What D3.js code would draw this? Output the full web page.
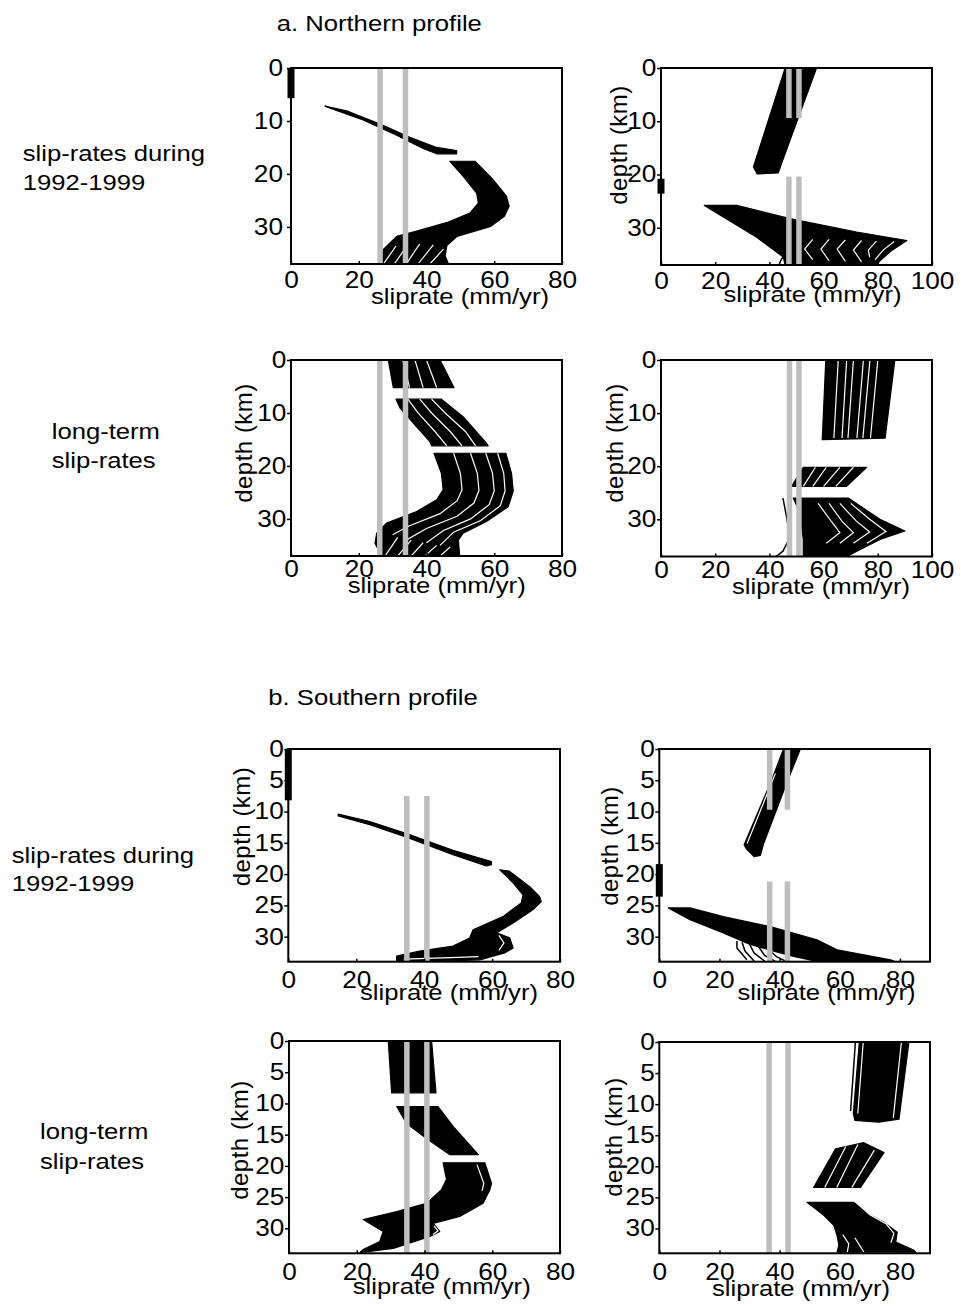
<!DOCTYPE html>
<html>
<head>
<meta charset="utf-8">
<script src="https://cdn.jsdelivr.net/npm/d3@7"></script>
<style>
  body { margin: 0; background: #fff; }
  svg text { font-family: "Liberation Sans", Arial, sans-serif; font-size: 22.5px; fill: #000; }
  svg .tick text { font-size: 23px; }
  svg text.ylab { font-size: 24px; letter-spacing: 0.5px; }
</style>
</head>
<body>
<script>
// Tick values.
const ticksA = [0, 10, 20, 30];
const ticksB = [0, 5, 10, 15, 20, 25, 30];
const slipTicks80 = [0, 20, 40, 60, 80];
const slipTicks100 = [0, 20, 40, 60, 80, 100];

// Each bundle outline is a list of [sliprate, depth] points.
// Gaps are white lines between sub-bundles, strands are loose black lines.
// Bars are [sliprate, depthTop, depthBottom]; markers are [depthTop, depthBottom] at x = 0.

// a. Northern profile, 1992-1999
const a1Bands = [
  [[10,7.2],[16.4,8.1],[26.3,10.6],[35.1,13.1],[43,15],[48.9,15.6],[48.9,16.2],[43,16.2],[39,15.2],[31.2,12.7],[21.3,9.8],[12,7.7]],
  [[46.9,17.6],[54.3,17.6],[59.7,21.1],[63.6,24.2],[64.4,26.1],[63,28],[59,29.9],[49,31.8],[46,33.5],[45.5,35.5],[46.5,37],[26.3,37],[27.2,34.3],[31.2,31.8],[37.1,30.8],[45.9,29.2],[52.8,27.4],[55.3,25.5],[54.8,23.6],[50.8,20.4]]
];
const a1Gaps = [[[27.5,36.8],[31,33.6]], [[30.5,37],[34.5,33.3]], [[34,37],[38,33.2]], [[37.5,37],[42,33.4]], [[41,37],[45,34.2]]];
const a1Bars = [[26.3,0,37],[33.8,0,37]];
const a1Marker = [0, 5.7];

// a. Northern profile, 1992-1999, right column
const a2Bands = [
  [[45.8,0],[57.4,0],[44.5,17.9],[43.3,19.7],[35.5,19.9],[34.1,18.6]],
  [[16,25.8],[27.9,25.8],[47.6,28.3],[72.2,30.8],[90.7,32.4],[85,34.3],[80.8,36.2],[79.6,37],[45.8,37],[45.1,35.5],[35.3,31.8]]
];
const a2Gaps = [[[86,32.6],[82,34.2],[79,36]], [[56,32.2],[53,34],[56,36]], [[62,32.2],[59,34],[62,36.2]], [[68,32.3],[65,34],[68,36.3]], [[74,32.4],[71,34.2],[74,36.4]], [[79.5,32.5],[76.5,34.2],[77,35.5]]];
const a2Strands = [[[43.5,37],[44.5,35.8],[46.5,35]]];
const a2Bars = [[47.2,0,9.4],[50.9,0,9.4],[47.2,20.4,37],[50.9,20.4,37]];
const a2Marker = [20.8, 23.6];

// a. Northern profile, long-term
const a3Bands = [
  [[28.7,0],[44,0],[48.1,5.2],[30.2,5.2]],
  [[31,7.4],[44.4,7.4],[50.8,10.7],[57.7,15.7],[58.2,16.2],[41.5,16.2],[41,15.4],[37.1,12.6],[32.2,9.1]],
  [[42.2,17.6],[63.4,17.6],[65.1,21.4],[65.6,24.8],[64.1,27.7],[57.7,30.5],[50.8,32.7],[49.4,34],[49.8,37],[26.7,37],[24.8,34.6],[25.3,32.7],[28.2,30.8],[37.1,28.6],[43,26.4],[44.9,24.5],[44.4,21.4]]
];
const a3Gaps = [
  [[33,0],[35,5.2]], [[36.6,0],[39,5.2]], [[40,0],[43,5.2]],
  [[34.5,7.4],[37.5,10],[42.5,13.5],[46,16.2]], [[38,7.4],[41.5,10],[47,13.5],[50.5,16.2]], [[41.5,7.4],[45.5,10],[51.5,13.5],[54.5,16.2]],
  [[48,17.6],[50,21.4],[50.5,24.5],[49,26.6],[44,29],[35,31.3],[30,33]],
  [[53,17.6],[55,21.4],[55.5,24.6],[54,27],[49,29.5],[40,31.8],[34,34]],
  [[57.5,17.6],[59.5,21.4],[60,24.7],[58.5,27.3],[53,30],[45,32.2],[40,34.5]],
  [[61,17.6],[62.8,21.4],[63.2,24.7],[61.8,27.5],[56,30.3],[48,32.5],[44,35]],
  [[28,36.8],[31.5,33.5]], [[31.5,37],[35.5,34]], [[35.5,37],[39,34.5]], [[39.5,37],[43,35]], [[44,37],[47,35.3]]
];
const a3Bars = [[26.2,0,37],[33.8,0,37]];

// a. Northern profile, long-term, right column
const a4Bands = [
  [[60.8,0],[86.3,0],[82.7,14.7],[59.5,15]],
  [[52.5,20.2],[75.9,20.2],[68.5,23.8],[48.2,23.8]],
  [[48.8,26],[69.1,26],[80.8,30],[90,32.2],[80.8,33.8],[68.5,37],[52.5,37],[52.5,33.8],[51.3,28.8]]
];
const a4Gaps = [
  [[65.4,0],[63.8,14.7]], [[68.5,0],[66.8,14.7]], [[71,0],[69,14.7]], [[74.7,0],[72.3,14.7]], [[77.1,0],[74.5,14.7]], [[80,0],[77.3,14.7]],
  [[57,20.2],[52.5,23.8]], [[61,20.2],[56,23.8]], [[66,20.2],[60,23.8]], [[71,20.2],[64.5,23.8]],
  [[58,27],[63,30.5],[66,32.5],[61,34.5]], [[62,27],[67,30.5],[71,32.5],[66,34.5]], [[66,27],[72,30.3],[77,32.4],[71,34.5]], [[70,27],[77,30],[83,32.3],[76,34.5]]
];
const a4Strands = [[[45,26],[46.5,30],[47.5,33.5],[45,36],[42.5,37]]];
const a4Bars = [[47.4,0,37],[50.9,0,37]];

// b. Southern profile, 1992-1999
const b1Bands = [
  [[14.7,10.4],[24,11.6],[34.8,13.5],[48.5,16.2],[59.8,18],[59.8,18.5],[58.3,18.7],[48.5,16.9],[34.8,14.1],[24,12.1],[14.7,10.7]],
  [[62.3,19.3],[65,19.5],[71.1,22],[74,23.6],[74.5,24.4],[72,25.7],[66.2,27.8],[61.3,29.4],[65.2,30.2],[66.2,31.8],[63.7,32.6],[56.4,33.7],[45,33.9],[31.9,33.9],[31.9,33.1],[38.7,32.3],[48.5,31.5],[53.4,30.2],[54.4,28.9],[63.2,26.8],[68.6,24.6],[69.1,23.3],[66.2,21.4]]
];
const b1Gaps = [[[62,29.8],[63.5,31],[62,32.2]], [[34,33.6],[50,33.3],[56,33.2]]];
const b1Bars = [[34.9,7.5,34],[40.8,7.5,34]];
const b1Marker = [0, 8.2];

// b. Southern profile, 1992-1999, right column
const b2Bands = [
  [[41.3,0],[46.9,0],[41.9,6],[34.7,15.1],[33.6,17],[31.5,17.2],[29,16],[28.2,15.3],[37.4,4.9]],
  [[3,25.4],[10.2,25.4],[21.3,26.8],[36.9,28.4],[52.4,30.5],[59.1,32.1],[76.9,33.7],[78,33.9],[52,33.9],[45,33.2],[38,32.3],[30,31.2],[21.3,29.4],[10.2,27.3]]
];
const b2Gaps = [[[38.6,3.9],[29.2,15.1]]];
const b2Strands = [
  [[25.8,30.7],[25.8,31.8],[29.1,33.7]], [[27.5,30.9],[28.5,32.3],[31.5,33.9]], [[30,31.2],[31.5,32.6],[35,33.9]],
  [[33,31.6],[35,33],[38.5,33.9]], [[36,31.9],[39,33.2],[42,33.9]],
  [[0,16.6],[0,18.4]]
];
const b2Bars = [[36.7,0,9.7],[42.6,0,9.7],[36.7,21.2,34],[42.6,21.2,34]];
const b2Marker = [18.4, 23.6];

// b. Southern profile, long-term
const b3Bands = [
  [[29.3,0],[42.1,0],[43.4,8.3],[30.3,8.3]],
  [[31.8,10.5],[44,10.5],[48.5,13.7],[55.9,18.2],[47.5,18.2],[41.1,15.8],[34.7,13.2]],
  [[45.5,19.5],[57.8,19.5],[59.8,22.8],[59.3,23.8],[57.3,26],[50.4,28.1],[42.6,29.2],[44.5,30.5],[41.6,31.3],[30.8,33.2],[20.9,33.9],[21.9,33.4],[26.8,32.1],[27.8,30.5],[21.9,28.6],[31.8,27.3],[40.6,26],[45,23.8],[46.5,22.2]]
];
const b3Gaps = [[[55.5,19.8],[57.5,22.8],[57,24]], [[42.8,29.6],[44,30.4],[42.5,31]]];
const b3Bars = [[34.8,0,34],[40.7,0,34]];

// b. Southern profile, long-term, right column
const b4Bands = [
  [[66.5,0],[83,0],[79.7,12.4],[73,12.9],[65,12.6],[64.5,11.5]],
  [[58.6,17.2],[68,16.2],[74.7,17.8],[66.9,23.4],[51.3,23.4]],
  [[49.1,25.8],[64.7,25.8],[69.1,27.6],[74.7,29],[79.1,30.6],[78.6,32.2],[84.7,33.5],[85.2,33.8],[59.1,33.8],[59.7,32.7],[59.1,31.1],[58,29.5],[54.7,27.9]]
];
const b4Gaps = [
  [[67.8,0],[66,11.5]], [[80.5,0],[77.8,12.2]],
  [[62,16.8],[55,23.4]], [[66,16.5],[59,23.4]], [[71.5,17.4],[64,23.4]],
  [[66,26],[70,27.8],[75.5,29.3],[78,30.8],[77,32.3]], [[61,31],[63,32.5],[62.5,33.8]], [[65,31.5],[67,33],[68,33.8]]
];
const b4Strands = [[[65.2,0],[63.6,11.1]]];
const b4Bars = [[36.5,0,34],[42.8,0,34]];

// Text.
const titles = [
  {text: 'a. Northern profile', x: 276.7, y: 30.7},
  {text: 'b. Southern profile', x: 268.3, y: 705}
];
const rowLabels = [
  {text: 'slip-rates during', x: 22.7, y: 161},
  {text: '1992-1999', x: 22.7, y: 190},
  {text: 'long-term', x: 51.7, y: 439.3},
  {text: 'slip-rates', x: 51.7, y: 468.3},
  {text: 'slip-rates during', x: 11.7, y: 863.3},
  {text: '1992-1999', x: 11.7, y: 891},
  {text: 'long-term', x: 40, y: 1138.5},
  {text: 'slip-rates', x: 40, y: 1168.5}
];

// Layout of the eight panels.
const panels = [
  {id: 'a1', left: 291, top: 68, width: 271, height: 196, xMax: 80, yMax: 37, xTicks: slipTicks80, yTicks: ticksA, xPad: 8, yPad: 3,
   xLabel: [460, 304], yLabel: null, bands: a1Bands, gaps: a1Gaps, strands: [], bars: a1Bars, marker: a1Marker},
  {id: 'a2', left: 661, top: 68, width: 271, height: 197, xMax: 100, yMax: 37, xTicks: slipTicks100, yTicks: ticksA, xPad: 8, yPad: 0,
   xLabel: [812.5, 302], yLabel: [627, 145], bands: a2Bands, gaps: a2Gaps, strands: a2Strands, bars: a2Bars, marker: a2Marker},
  {id: 'a3', left: 291, top: 360, width: 271, height: 196, xMax: 80, yMax: 37, xTicks: slipTicks80, yTicks: ticksA, xPad: 5, yPad: 0,
   xLabel: [436.7, 593], yLabel: [251.6, 443], bands: a3Bands, gaps: a3Gaps, strands: [], bars: a3Bars, marker: null},
  {id: 'a4', left: 661, top: 360, width: 271, height: 196.5, xMax: 100, yMax: 37, xTicks: slipTicks100, yTicks: ticksA, xPad: 5, yPad: 0,
   xLabel: [821, 594], yLabel: [623, 443], bands: a4Bands, gaps: a4Gaps, strands: a4Strands, bars: a4Bars, marker: null},
  {id: 'b1', left: 288.3, top: 749, width: 271.7, height: 212.7, xMax: 80, yMax: 34, xTicks: slipTicks80, yTicks: ticksB, xPad: 10, yPad: 0,
   xLabel: [449, 1000], yLabel: [250, 826.5], bands: b1Bands, gaps: b1Gaps, strands: [], bars: b1Bars, marker: b1Marker},
  {id: 'b2', left: 659.3, top: 749, width: 270.7, height: 212.7, xMax: 90, yMax: 34, xTicks: slipTicks80, yTicks: ticksB, xPad: 10, yPad: 0,
   xLabel: [826.5, 1000], yLabel: [618, 846], bands: b2Bands, gaps: b2Gaps, strands: b2Strands, bars: b2Bars, marker: b2Marker},
  {id: 'b3', left: 289, top: 1041, width: 271, height: 212.3, xMax: 80, yMax: 34, xTicks: slipTicks80, yTicks: ticksB, xPad: 10, yPad: 0,
   xLabel: [441.7, 1294], yLabel: [248, 1140], bands: b3Bands, gaps: b3Gaps, strands: [], bars: b3Bars, marker: null},
  {id: 'b4', left: 659.3, top: 1042, width: 270.7, height: 211.3, xMax: 90, yMax: 34, xTicks: slipTicks80, yTicks: ticksB, xPad: 10, yPad: 0,
   xLabel: [801, 1296], yLabel: [622, 1137], bands: b4Bands, gaps: b4Gaps, strands: b4Strands, bars: b4Bars, marker: null}
];

// Horizontal stretch of all upright text, as in the source figure.
const stretch = 1.14;

const svg = d3.select('body')
      .append('svg')
      .attr('width', 961)
      .attr('height', 1306)
      .style('display', 'block');

const defs = svg.append('defs');

function drawPanel(p) {
  const x = d3.scaleLinear().domain([0, p.xMax]).range([p.left, p.left + p.width]);
  const y = d3.scaleLinear().domain([0, p.yMax]).range([p.top, p.top + p.height]);
  const line = d3.line().x((d) => x(d[0])).y((d) => y(d[1]));

  defs.append('clipPath')
    .attr('id', 'clip-' + p.id)
    .append('rect')
    .attr('x', p.left).attr('y', p.top)
    .attr('width', p.width).attr('height', p.height);

  const g = svg.append('g').attr('id', 'panel-' + p.id);
  const plot = g.append('g').attr('clip-path', 'url(#clip-' + p.id + ')');

  // Bundles of slip-rate curves.
  plot.selectAll('path.band')
    .data(p.bands)
    .join('path')
    .attr('class', 'band')
    .attr('d', (d) => line(d) + 'Z')
    .attr('fill', '#000')
    .attr('stroke', '#000')
    .attr('stroke-width', 1.2)
    .attr('stroke-linejoin', 'round');

  plot.selectAll('path.gap')
    .data(p.gaps)
    .join('path')
    .attr('class', 'gap')
    .attr('d', line)
    .attr('fill', 'none')
    .attr('stroke', '#fff')
    .attr('stroke-width', 1.2);

  plot.selectAll('path.strand')
    .data(p.strands)
    .join('path')
    .attr('class', 'strand')
    .attr('d', line)
    .attr('fill', 'none')
    .attr('stroke', '#000')
    .attr('stroke-width', 1.5);

  // Grey bars.
  plot.selectAll('line.bar')
    .data(p.bars)
    .join('line')
    .attr('class', 'bar')
    .attr('x1', (d) => x(d[0])).attr('x2', (d) => x(d[0]))
    .attr('y1', (d) => y(d[1])).attr('y2', (d) => y(d[2]))
    .attr('stroke', '#bebebe')
    .attr('stroke-width', 5.5);

  // Frame.
  g.append('rect')
    .attr('x', p.left).attr('y', p.top)
    .attr('width', p.width).attr('height', p.height)
    .attr('fill', 'none')
    .attr('stroke', '#000')
    .attr('stroke-width', 2);

  // Black marker at zero sliprate.
  if (p.marker) {
    g.append('line')
      .attr('x1', x(0)).attr('x2', x(0))
      .attr('y1', y(p.marker[0])).attr('y2', y(p.marker[1]))
      .attr('stroke', '#000')
      .attr('stroke-width', 7);
  }

  // Axes.
  const xAxis = d3.axisBottom(x)
        .tickValues(p.xTicks)
        .tickSizeInner(-3)
        .tickSizeOuter(0)
        .tickPadding(p.xPad);
  const gx = g.append('g')
        .attr('transform', 'translate(0,' + (p.top + p.height) + ')')
        .call(xAxis);
  gx.select('.domain').remove();
  gx.selectAll('line').attr('stroke-width', 1.5);
  gx.selectAll('text').attr('transform', 'scale(' + stretch + ',1)');

  const yAxis = d3.axisLeft(y)
        .tickValues(p.yTicks)
        .tickSizeInner(4)
        .tickSizeOuter(0)
        .tickPadding(p.yPad);
  const gy = g.append('g')
        .attr('transform', 'translate(' + p.left + ',0)')
        .call(yAxis);
  gy.select('.domain').remove();
  gy.selectAll('line').attr('stroke-width', 1.5);
  gy.selectAll('text').attr('transform', 'scale(' + stretch + ',1)');

  // Axis titles.
  g.append('text')
    .attr('text-anchor', 'middle')
    .attr('transform', 'translate(' + p.xLabel[0] + ',' + p.xLabel[1] + ') scale(' + stretch + ',1)')
    .text('sliprate (mm/yr)');

  if (p.yLabel) {
    g.append('text')
      .attr('class', 'ylab')
      .attr('text-anchor', 'middle')
      .attr('transform', 'translate(' + p.yLabel[0] + ',' + p.yLabel[1] + ') rotate(-90)')
      .text('depth (km)');
  }
}

panels.forEach(drawPanel);

svg.selectAll('text.title')
  .data(titles.concat(rowLabels))
  .join('text')
  .attr('class', 'title')
  .attr('transform', (d) => 'translate(' + d.x + ',' + d.y + ') scale(' + stretch + ',1)')
  .text((d) => d.text);
</script>
</body>
</html>
